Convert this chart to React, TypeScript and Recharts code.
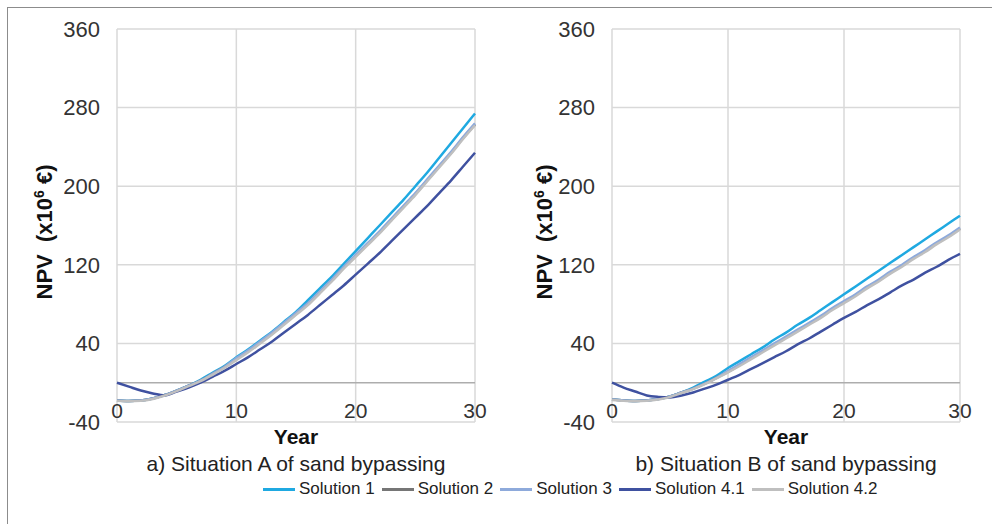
import React from "react";
import { LineChart, Line, XAxis, YAxis, CartesianGrid, ReferenceLine } from "recharts";

const FONT = "Arial, 'Liberation Sans', sans-serif";

// years 0..30
const years = [0, 1, 2, 3, 4, 5, 6, 7, 8, 9, 10, 11, 12, 13, 14, 15, 16, 17, 18, 19, 20, 21, 22, 23, 24, 25, 26, 27, 28, 29, 30];
const xTicks = [0, 10, 20, 30];
const yTicks = [-40, 40, 120, 200, 280, 360];

// a) Situation A
const aSol1 = [-18, -18.5, -18, -16, -12.5, -8, -3, 3, 10, 17, 26, 34, 43, 52, 62, 72, 84, 96, 108, 121, 134, 147, 160, 173, 186, 200, 214, 229, 244, 259, 274];
const aSol2 = [-18, -18.5, -18, -16, -12.5, -8, -3, 2, 9, 16, 24, 32, 41, 50, 60, 70, 80, 92, 104, 117, 129, 141, 153, 166, 179, 192, 206, 220, 234, 249, 263];
const aSol3 = [-18, -18.5, -18, -16, -12.5, -8, -3, 2, 9, 16, 25, 33, 42, 51, 61, 71, 81, 93, 105, 118, 130, 142, 154, 167, 180, 193, 207, 221, 235, 250, 264];
const aSol41 = [0, -4, -8, -11, -13, -9, -5, 0, 6, 12, 19, 26, 34, 42, 51, 60, 69, 79, 89, 99, 110, 121, 132, 144, 156, 168, 180, 193, 206, 220, 234];
const aSol42 = [-18.5, -19, -18.5, -16.5, -13, -8.5, -3.5, 1.5, 8, 15, 23, 31, 40, 49, 59, 69, 79, 91, 103, 116, 128, 140, 152, 165, 178, 191, 205, 219, 233, 248, 262];

// b) Situation B
const bSol1 = [-17, -18, -18.5, -18, -16.5, -14, -10, -5, 1, 7, 15, 22, 29, 36, 44, 51, 59, 66, 74, 82, 90, 98, 106, 114, 122, 130, 138, 146, 154, 162, 170];
const bSol2 = [-17, -18, -18.5, -18, -16.5, -14, -10, -6, -1, 5, 11, 18, 25, 32, 39, 46, 53, 60, 67, 75, 82, 89, 97, 104, 112, 119, 127, 134, 142, 149, 157];
const bSol3 = [-17, -18, -18.5, -18, -16.5, -14, -10, -6, -1, 5, 12, 19, 26, 33, 40, 47, 54, 61, 68, 76, 83, 90, 98, 105, 113, 120, 128, 135, 143, 150, 158];
const bSol41 = [0, -5, -9, -13, -14.5, -15, -13, -10, -6, -2, 3, 8, 14, 20, 26, 32, 39, 45, 52, 59, 66, 72, 79, 85, 92, 99, 105, 112, 118, 125, 131];
const bSol42 = [-17.5, -18.5, -19, -18.5, -17, -14.5, -10.5, -6.5, -1.5, 4.5, 10.5, 17, 24, 31, 38, 45, 52, 59, 66, 74, 81, 88, 96, 103, 111, 118, 126, 133, 141, 148, 156];

const series = [
  { key: "s1", name: "Solution 1", color: "#1fa9e1" },
  { key: "s2", name: "Solution 2", color: "#767676" },
  { key: "s3", name: "Solution 3", color: "#8eaadb" },
  { key: "s41", name: "Solution 4.1", color: "#3f51a0" },
  { key: "s42", name: "Solution 4.2", color: "#bfbfbf" },
];

const rowsA = years.map((year, i) => ({ year, s1: aSol1[i], s2: aSol2[i], s3: aSol3[i], s41: aSol41[i], s42: aSol42[i] }));
const rowsB = years.map((year, i) => ({ year, s1: bSol1[i], s2: bSol2[i], s3: bSol3[i], s41: bSol41[i], s42: bSol42[i] }));

function XTick(props: any) {
  const { x, y, payload } = props;
  return (
    <text x={x} y={y - 12} textAnchor="middle" dominantBaseline="central" fontSize={21} fill="#333" fontFamily={FONT}>
      {payload.value}
    </text>
  );
}

function Panel({ rows, left, width, plotLeft, plotRight, labelX, caption }: any) {
  const yw = 60;
  const cx = (plotLeft + plotRight) / 2;
  return (
    <>
      <div style={{ position: "absolute", left, top: 0 }}>
        <LineChart
          width={width}
          height={480}
          data={rows}
          margin={{ top: 29, right: left + width - plotRight, bottom: 38, left: plotLeft - left - yw }}
        >
          <CartesianGrid stroke="#d9d9d9" strokeWidth={1.5} />
          <XAxis
            dataKey="year"
            type="number"
            domain={[0, 30]}
            ticks={xTicks}
            interval={0}
            axisLine={false}
            tickLine={false}
            tickSize={0}
            tickMargin={0}
            height={20}
            tick={<XTick />}
          />
          <YAxis
            type="number"
            domain={[-40, 360]}
            ticks={yTicks}
            interval={0}
            axisLine={false}
            tickLine={false}
            tickSize={0}
            tickMargin={17}
            width={yw}
            tick={{ fontSize: 22, fill: "#333", fontFamily: FONT }}
          />
          <ReferenceLine y={0} stroke="#adadad" strokeWidth={1.5} />
          {series.map((s) => (
            <Line
              key={s.key}
              type="monotone"
              dataKey={s.key}
              name={s.name}
              stroke={s.color}
              strokeWidth={2.5}
              dot={false}
              isAnimationActive={false}
            />
          ))}
        </LineChart>
      </div>
      <div
        style={{
          position: "absolute",
          left: labelX - 110,
          top: 232 - 14,
          width: 220,
          height: 28,
          lineHeight: "28px",
          textAlign: "center",
          transform: "rotate(-90deg)",
          fontWeight: "bold",
          fontSize: 22,
          color: "#111",
          whiteSpace: "pre",
        }}
      >
        NPV  (x10<span style={{ fontSize: 14, position: "relative", top: -8 }}>6</span> €)
      </div>
      <div style={{ position: "absolute", left: cx - 100, top: 425, width: 200, textAlign: "center", fontWeight: "bold", fontSize: 21, color: "#111" }}>
        Year
      </div>
      <div style={{ position: "absolute", left: cx - 200, top: 452, width: 400, textAlign: "center", fontSize: 21, color: "#222" }}>
        {caption}
      </div>
    </>
  );
}

export default function App() {
  return (
    <div
      style={{
        position: "absolute",
        left: 0,
        top: 0,
        width: 992,
        height: 524,
        background: "#fff",
        fontFamily: FONT,
        overflow: "hidden",
      }}
    >
      <div style={{ position: "absolute", left: 7, top: 7, right: 0, bottom: 0, borderLeft: "1px solid #8c8c8c", borderTop: "1px solid #8c8c8c" }} />
      <Panel rows={rowsA} left={0} width={490} plotLeft={117} plotRight={475} labelX={45} caption="a) Situation A of sand bypassing" />
      <Panel rows={rowsB} left={490} width={490} plotLeft={612} plotRight={960} labelX={545} caption="b) Situation B of sand bypassing" />
      <div style={{ position: "absolute", left: 263, top: 479, display: "flex", alignItems: "center", fontSize: 17, color: "#222", whiteSpace: "nowrap" }}>
        {series.map((s) => (
          <div key={s.key} style={{ display: "flex", alignItems: "center", marginRight: 7 }}>
            <span style={{ display: "inline-block", width: 32, height: 3, background: s.color, marginRight: 4 }} />
            <span>{s.name}</span>
          </div>
        ))}
      </div>
    </div>
  );
}
